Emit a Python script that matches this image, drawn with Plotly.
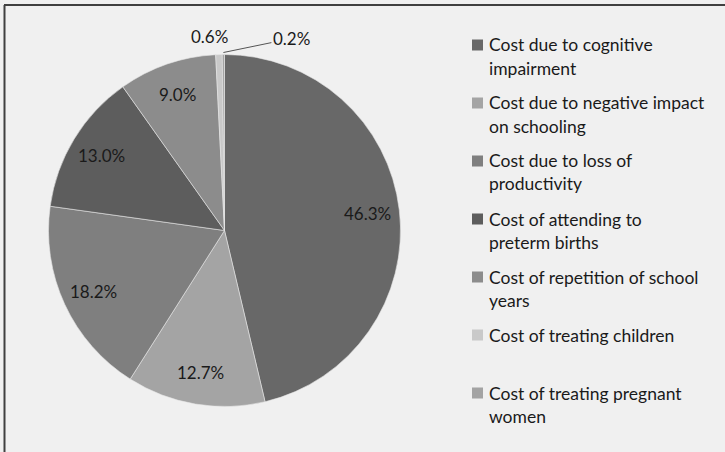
import math
import plotly.graph_objects as go

# Share of total cost by component (percent)
categories = [
    "Cost due to cognitive impairment",
    "Cost due to negative impact on schooling",
    "Cost due to loss of productivity",
    "Cost of attending to preterm births",
    "Cost of repetition of school years",
    "Cost of treating children",
    "Cost of treating pregnant women",
]
shares = [46.3, 12.7, 18.2, 13.0, 9.0, 0.6, 0.2]

# Legend text as wrapped in the legend box
legend_text = [
    ["Cost due to cognitive", "impairment"],
    ["Cost due to negative impact", "on schooling"],
    ["Cost due to loss of", "productivity"],
    ["Cost of attending to", "preterm births"],
    ["Cost of repetition of school", "years"],
    ["Cost of treating children"],
    ["Cost of treating pregnant", "women"],
]

colors = ["#686868", "#a4a4a4", "#7f7f7f", "#5d5d5d", "#8c8c8c", "#c9c9c9", "#a3a3a3"]

W, H = 725, 452
FONT = "Lato"
TEXT_COLOR = "#1a1a1a"
BG = "#f0f0f0"

# Pie geometry in pixels
CX, CY, R = 224.5, 230.5, 176.0


def px(x):
    return x / W


def py(y):
    return 1 - y / H


fig = go.Figure()
fig.add_trace(go.Pie(
    labels=categories,
    values=shares,
    sort=False,
    direction="clockwise",
    rotation=0,
    marker=dict(colors=colors, line=dict(color="#e6e6e6", width=0.6)),
    textinfo="none",
    hoverinfo="label+percent",
    showlegend=False,
    domain=dict(x=[px(CX - R), px(CX + R)], y=[py(CY + R), py(CY - R)]),
))

annotations = []
shapes = []

# Percentage labels placed along each slice's mid angle
total = sum(shares)
cum = 0.0
for i, v in enumerate(shares):
    mid = 2 * math.pi * (cum + v / 2) / total
    cum += v
    label = f"{v:.1f}%"
    if v >= 5:
        r = 0.82 * R
        x = CX + r * math.sin(mid)
        y = CY - r * math.cos(mid)
        annotations.append(dict(
            x=px(x), y=py(y), xref="paper", yref="paper", text=label,
            showarrow=False, xanchor="center", yanchor="middle",
            font=dict(family=FONT, size=17, color=TEXT_COLOR),
        ))
    else:
        ex = CX + R * math.sin(mid)
        ey = CY - R * math.cos(mid)
        if i == len(shares) - 1:
            annotations.append(dict(
                x=px(ex), y=py(ey - 2), xref="paper", yref="paper", text=label,
                showarrow=True, arrowhead=0, arrowwidth=1, arrowcolor="#555555",
                ax=68, ay=-14, xanchor="center", yanchor="middle",
                font=dict(family=FONT, size=17, color=TEXT_COLOR),
            ))
        else:
            annotations.append(dict(
                x=px(ex), y=py(ey), xref="paper", yref="paper", text=label,
                showarrow=False, xanchor="center", yanchor="middle",
                xshift=-9, yshift=18,
                font=dict(family=FONT, size=17, color=TEXT_COLOR),
            ))

# Legend: colour squares and wrapped labels
LEG_TOP, LEG_STEP, LINE_GAP = 45.0, 58.0, 23.0
SQ_X0, SQ_SIZE, TEXT_X = 472.0, 11.0, 487.0
for i, lines in enumerate(legend_text):
    yc = LEG_TOP + i * LEG_STEP
    shapes.append(dict(
        type="rect", xref="paper", yref="paper",
        x0=px(SQ_X0), x1=px(SQ_X0 + SQ_SIZE),
        y0=py(yc + SQ_SIZE / 2), y1=py(yc - SQ_SIZE / 2),
        fillcolor=colors[i], line=dict(width=0),
    ))
    for j, line in enumerate(lines):
        annotations.append(dict(
            x=px(TEXT_X), y=py(yc + j * LINE_GAP), xref="paper", yref="paper",
            text=line, showarrow=False, xanchor="left", yanchor="middle",
            font=dict(family=FONT, size=17.5, color=TEXT_COLOR),
        ))

# Chart frame (top and left edges)
shapes.append(dict(type="line", xref="paper", yref="paper",
                   x0=px(4), x1=1, y0=py(5), y1=py(5),
                   line=dict(color="#404040", width=2)))
shapes.append(dict(type="line", xref="paper", yref="paper",
                   x0=px(4.5), x1=px(4.5), y0=py(5), y1=0,
                   line=dict(color="#404040", width=2)))

fig.update_layout(
    width=W, height=H,
    margin=dict(l=0, r=0, t=0, b=0, pad=0),
    paper_bgcolor=BG, plot_bgcolor=BG,
    font=dict(family=FONT, color=TEXT_COLOR),
    annotations=annotations,
    shapes=shapes,
    showlegend=False,
)

fig.write_html("out.html")
